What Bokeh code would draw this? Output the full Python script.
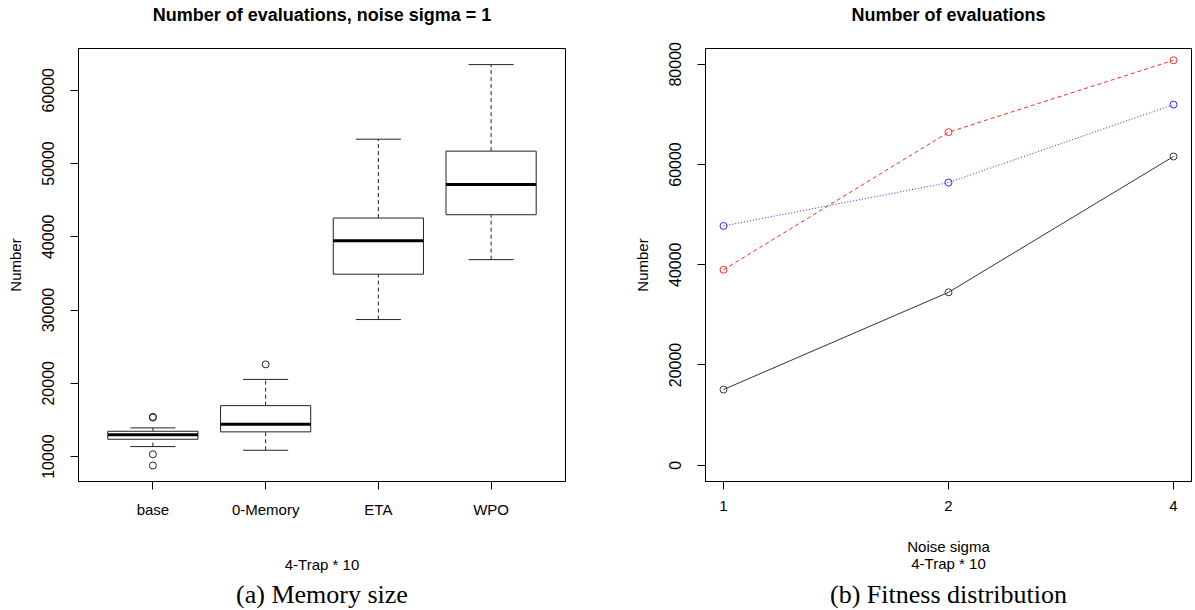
import numpy as np
from bokeh.plotting import figure
from bokeh.layouts import row
from bokeh.models import FixedTicker, Range1d, Title
from bokeh.embed import file_html
from bokeh.resources import INLINE

# ---------------- data: left panel (boxplot summary) ----------------
methods = ["base", "0-Memory", "ETA", "WPO"]
whisker_low = [11360, 10860, 28700, 36880]
q1 = [12360, 13370, 34890, 43010]
median = [12960, 14400, 39470, 47150]
q3 = [13450, 16950, 42560, 51690]
whisker_high = [13910, 20530, 53320, 63500]
outlier_method = ["base", "base", "base", "base", "0-Memory"]
outlier_value = [15410, 15330, 10310, 8780, 22580]

# ---------------- data: right panel ----------------
sigma_labels = ["1", "2", "4"]
series_black = [15100, 34500, 61600]
series_red = [39000, 66450, 80800]
series_blue = [47750, 56400, 71950]

SANS = "Liberation Sans"
SERIF = "Liberation Serif"


def style_axes(p):
    for ax in (p.xaxis[0], p.yaxis[0]):
        ax.axis_line_color = "black"
        ax.major_tick_line_color = "black"
        ax.major_tick_in = 0
        ax.major_tick_out = 8
        ax.minor_tick_line_color = None
        ax.major_label_text_font = SANS
        ax.major_label_text_font_size = "15px"
        ax.major_label_text_color = "black"
        ax.axis_label_text_font = SANS
        ax.axis_label_text_font_size = "15px"
        ax.axis_label_text_font_style = "normal"
        ax.axis_label_text_color = "black"
    p.yaxis[0].major_label_orientation = "vertical"
    p.yaxis[0].major_label_text_font_size = "16px"
    p.yaxis[0].major_label_standoff = 16
    p.yaxis[0].axis_label_standoff = 16
    p.xaxis[0].major_label_standoff = 11
    p.xgrid.grid_line_color = None
    p.ygrid.grid_line_color = None
    p.outline_line_color = "black"
    p.outline_line_alpha = 1
    p.outline_line_width = 1
    p.title.text_font = SANS
    p.title.text_font_size = "18px"
    p.title.text_font_style = "bold"
    p.title.text_color = "black"
    p.title.align = "center"
    p.title.standoff = 2
    # empty spacer between the title and the frame
    spacer = Title(text=" ", text_font_size="19px", standoff=0)
    p.above.insert(0, spacer)


# ---------------- left figure ----------------
pos = [i + 1 for i in range(len(methods))]
n = len(methods)
p1 = figure(width=600, height=610, output_backend="svg", toolbar_location=None,
            x_range=Range1d(0.5 - 0.04 * n, n + 0.5 + 0.04 * n),
            y_range=Range1d(6594, 65700),
            title="Number of evaluations, noise sigma = 1",
            min_border_left=78, min_border_right=35, min_border_top=48, min_border_bottom=128)
style_axes(p1)
p1.xaxis[0].ticker = FixedTicker(ticks=pos)
p1.xaxis[0].major_label_overrides = {k: m for k, m in zip(pos, methods)}
p1.yaxis[0].ticker = FixedTicker(ticks=[10000, 20000, 30000, 40000, 50000, 60000])
p1.yaxis[0].axis_label = "Number"
p1.xaxis[0].axis_label = "4-Trap * 10"
p1.xaxis[0].axis_label_standoff = 35

bw = 0.8
cap = 0.4
box_col = "#222222"
# whiskers (dashed)
p1.segment(x0=pos, x1=pos, y0=q3, y1=whisker_high, line_color=box_col, line_width=1, line_dash="4 3")
p1.segment(x0=pos, x1=pos, y0=whisker_low, y1=q1, line_color=box_col, line_width=1, line_dash="4 3")
# caps
p1.segment(x0=[x - cap / 2 for x in pos], x1=[x + cap / 2 for x in pos], y0=whisker_high, y1=whisker_high,
           line_color=box_col, line_width=1)
p1.segment(x0=[x - cap / 2 for x in pos], x1=[x + cap / 2 for x in pos], y0=whisker_low, y1=whisker_low,
           line_color=box_col, line_width=1)
# boxes
p1.vbar(x=pos, width=bw, bottom=q1, top=q3, fill_color="white", line_color=box_col, line_width=1)
# medians
p1.segment(x0=[x - bw / 2 for x in pos], x1=[x + bw / 2 for x in pos], y0=median, y1=median,
           line_color="black", line_width=3)
# outliers
opos = [methods.index(m) + 1 for m in outlier_method]
p1.scatter(x=opos, y=outlier_value, marker="circle", size=7, fill_color=None, line_color=box_col, line_width=1)

cap1 = Title(text="(a) Memory size", align="center", text_font=SERIF, text_font_size="26px",
             text_font_style="normal", text_color="black", standoff=4)
p1.add_layout(cap1, "below")

# ---------------- right figure ----------------
xs = [i + 1 for i in range(len(sigma_labels))]
m = len(sigma_labels)
span = m - 1
p2 = figure(width=595, height=610, output_backend="svg", toolbar_location=None,
            x_range=Range1d(1 - 0.04 * span, m + 0.04 * span),
            y_range=Range1d(-3250, 83150),
            title="Number of evaluations",
            min_border_left=105, min_border_right=4, min_border_top=48, min_border_bottom=128)
style_axes(p2)
p2.xaxis[0].ticker = FixedTicker(ticks=xs)
p2.xaxis[0].major_label_overrides = {k: s for k, s in zip(xs, sigma_labels)}
p2.yaxis[0].ticker = FixedTicker(ticks=[0, 20000, 40000, 60000, 80000])
p2.yaxis[0].axis_label = "Number"
p2.xaxis[0].axis_label = "Noise sigma\n4-Trap * 10"
p2.xaxis[0].axis_label_text_line_height = 1.05
p2.xaxis[0].axis_label_standoff = 24

p2.line(xs, series_black, line_color="#333333", line_width=1)
p2.scatter(xs, series_black, marker="circle", size=7, fill_color=None, line_color="#333333")
p2.line(xs, series_red, line_color="#ff2a2a", line_width=1, line_dash="4 3")
p2.scatter(xs, series_red, marker="circle", size=7, fill_color=None, line_color="#ff2a2a")
p2.line(xs, series_blue, line_color="#2a2aff", line_width=1, line_dash="1 2")
p2.scatter(xs, series_blue, marker="circle", size=7, fill_color=None, line_color="#2a2aff")

cap2 = Title(text="(b) Fitness distribution", align="center", text_font=SERIF, text_font_size="26px",
             text_font_style="normal", text_color="black", standoff=4)
p2.add_layout(cap2, "below")

layout = row(p1, p2)
open("out.html", "w").write(file_html(layout, INLINE))
